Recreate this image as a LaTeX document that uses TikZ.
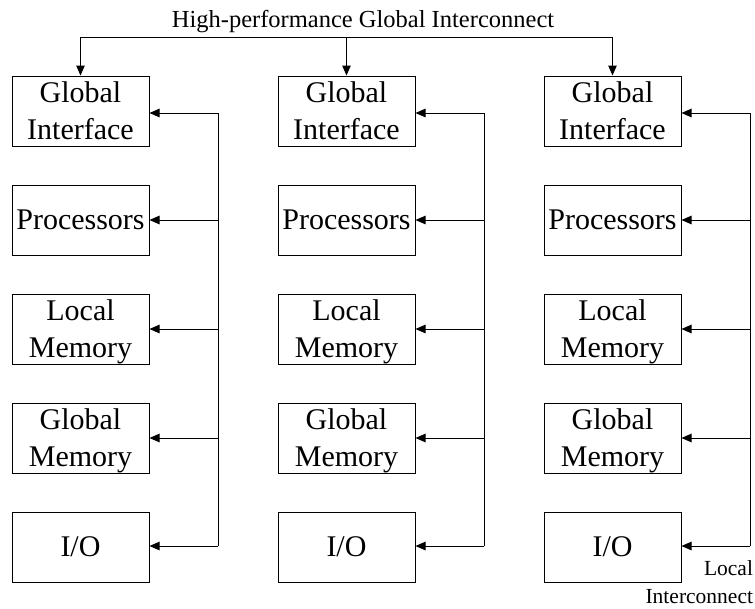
\documentclass[tikz,border=0pt]{standalone}
\usepackage{fontspec}
\setmainfont{Liberation Serif}
\usetikzlibrary{arrows.meta,calc}
\newcommand{\nodepth}[1]{\raisebox{0pt}[\height][0pt]{#1}}
\begin{document}
\begin{tikzpicture}[x=1pt,y=-1pt,line width=1pt,
  unitbox/.style={draw,minimum width=137pt,minimum height=70pt,inner sep=0pt,align=center,font=\fontsize{30}{37}\selectfont},
  arr/.style={-{Triangle[length=10pt,width=8.5pt]}},
  titletext/.style={font=\fontsize{24.5}{29}\selectfont,inner sep=0pt},
  smalltext/.style={font=\fontsize{21.5}{28}\selectfont,inner sep=0pt,align=right}]
\useasboundingbox (0,0) rectangle (755,608);
\node[titletext,anchor=base] (title) at (363,27) {High-performance Global Interconnect};
\coordinate (hy) at (0,37);
\foreach \c/\x in {1/80.5,2/346.5,3/612.5}{
  \node[unitbox] (gi\c) at (\x,111) {Global\\Interface};
  \node[unitbox] (pr\c) at (\x,220) {Processors};
  \node[unitbox] (lm\c) at (\x,329) {Local\\\nodepth{Memory}};
  \node[unitbox] (gm\c) at (\x,438) {Global\\\nodepth{Memory}};
  \node[unitbox] (io\c) at (\x,547) {I/O};
  \coordinate (ba\c) at (\x+137.5,113);
  \coordinate (bb\c) at (\x+137.5,220);
  \coordinate (bc\c) at (\x+137.5,329);
  \coordinate (bd\c) at (\x+137.5,438);
  \coordinate (be\c) at (\x+137.5,546);
  \draw (ba\c) -- (be\c);
  \draw[arr] (ba\c) -- (gi\c.east |- ba\c);
  \draw[arr] (bb\c) -- (pr\c.east |- bb\c);
  \draw[arr] (bc\c) -- (lm\c.east |- bc\c);
  \draw[arr] (bd\c) -- (gm\c.east |- bd\c);
  \draw[arr] (be\c) -- (io\c.east |- be\c);
  \coordinate (top\c) at (gi\c.north |- hy);
  \draw[arr] (top\c) -- (gi\c.north);
}
\draw (top1) -- (top3);
\node[smalltext,anchor=south east] (li) at (753.5,604.5) {Local\\Interconnect};
\end{tikzpicture}
\end{document}
